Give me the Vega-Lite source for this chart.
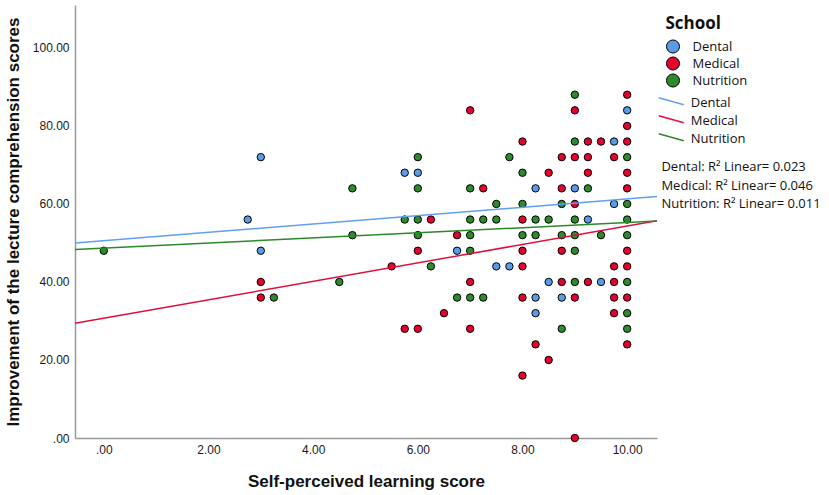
{
  "$schema": "https://vega.github.io/schema/vega-lite/v6.json",
  "width": 582,
  "height": 433,
  "autosize": {"type": "none"},
  "padding": {"left": 75, "top": 5, "right": 172, "bottom": 57},
  "background": "white",
  "config": {"view": {"stroke": null}, "font": "Liberation Sans"},
  "resolve": {"legend": {"fill": "independent", "stroke": "independent", "shape": "independent"}},
  "datasets": {
    "points": [
      {"school": "Dental", "x": 3, "y": 72}, {"school": "Dental", "x": 2.75, "y": 56}, {"school": "Dental", "x": 3, "y": 48},
      {"school": "Dental", "x": 5.75, "y": 68}, {"school": "Dental", "x": 6, "y": 68}, {"school": "Dental", "x": 6.75, "y": 48},
      {"school": "Dental", "x": 7.5, "y": 44}, {"school": "Dental", "x": 7.75, "y": 44}, {"school": "Dental", "x": 8.25, "y": 64},
      {"school": "Dental", "x": 9, "y": 64}, {"school": "Dental", "x": 9.75, "y": 76}, {"school": "Dental", "x": 10, "y": 84},
      {"school": "Dental", "x": 9.75, "y": 60}, {"school": "Dental", "x": 9.25, "y": 56}, {"school": "Dental", "x": 8.5, "y": 40},
      {"school": "Dental", "x": 9.5, "y": 40}, {"school": "Dental", "x": 8.25, "y": 36}, {"school": "Dental", "x": 8.75, "y": 36},
      {"school": "Dental", "x": 8.25, "y": 32},
      {"school": "Medical", "x": 3, "y": 40}, {"school": "Medical", "x": 3, "y": 36}, {"school": "Medical", "x": 7, "y": 84},
      {"school": "Medical", "x": 8, "y": 76}, {"school": "Medical", "x": 7.25, "y": 64}, {"school": "Medical", "x": 6.25, "y": 56},
      {"school": "Medical", "x": 8, "y": 56}, {"school": "Medical", "x": 6.75, "y": 52}, {"school": "Medical", "x": 6, "y": 48},
      {"school": "Medical", "x": 8, "y": 48}, {"school": "Medical", "x": 5.5, "y": 44}, {"school": "Medical", "x": 8, "y": 44},
      {"school": "Medical", "x": 7, "y": 40}, {"school": "Medical", "x": 8, "y": 36}, {"school": "Medical", "x": 6.5, "y": 32},
      {"school": "Medical", "x": 5.75, "y": 28}, {"school": "Medical", "x": 6, "y": 28}, {"school": "Medical", "x": 7, "y": 28},
      {"school": "Medical", "x": 8, "y": 16}, {"school": "Medical", "x": 10, "y": 88}, {"school": "Medical", "x": 9, "y": 84},
      {"school": "Medical", "x": 10, "y": 80}, {"school": "Medical", "x": 9.25, "y": 76}, {"school": "Medical", "x": 9.5, "y": 76},
      {"school": "Medical", "x": 10, "y": 76}, {"school": "Medical", "x": 8.75, "y": 72}, {"school": "Medical", "x": 9, "y": 72},
      {"school": "Medical", "x": 9.25, "y": 72}, {"school": "Medical", "x": 9.75, "y": 72}, {"school": "Medical", "x": 8.5, "y": 68},
      {"school": "Medical", "x": 9.25, "y": 68}, {"school": "Medical", "x": 10, "y": 68}, {"school": "Medical", "x": 8.75, "y": 64},
      {"school": "Medical", "x": 10, "y": 64}, {"school": "Medical", "x": 9, "y": 60}, {"school": "Medical", "x": 8.75, "y": 48},
      {"school": "Medical", "x": 10, "y": 48}, {"school": "Medical", "x": 9.75, "y": 44}, {"school": "Medical", "x": 10, "y": 44},
      {"school": "Medical", "x": 8.75, "y": 40}, {"school": "Medical", "x": 9.25, "y": 40}, {"school": "Medical", "x": 9.75, "y": 40},
      {"school": "Medical", "x": 9, "y": 36}, {"school": "Medical", "x": 9.75, "y": 36}, {"school": "Medical", "x": 10, "y": 36},
      {"school": "Medical", "x": 9.75, "y": 32}, {"school": "Medical", "x": 8.25, "y": 24}, {"school": "Medical", "x": 10, "y": 24},
      {"school": "Medical", "x": 8.5, "y": 20}, {"school": "Medical", "x": 9, "y": 0},
      {"school": "Nutrition", "x": 0, "y": 48}, {"school": "Nutrition", "x": 3.25, "y": 36}, {"school": "Nutrition", "x": 4.5, "y": 40},
      {"school": "Nutrition", "x": 4.75, "y": 64}, {"school": "Nutrition", "x": 4.75, "y": 52}, {"school": "Nutrition", "x": 6, "y": 72},
      {"school": "Nutrition", "x": 7.75, "y": 72}, {"school": "Nutrition", "x": 8, "y": 68}, {"school": "Nutrition", "x": 6, "y": 64},
      {"school": "Nutrition", "x": 7, "y": 64}, {"school": "Nutrition", "x": 7.5, "y": 60}, {"school": "Nutrition", "x": 8, "y": 60},
      {"school": "Nutrition", "x": 5.75, "y": 56}, {"school": "Nutrition", "x": 6, "y": 56}, {"school": "Nutrition", "x": 7, "y": 56},
      {"school": "Nutrition", "x": 7.25, "y": 56}, {"school": "Nutrition", "x": 7.5, "y": 56}, {"school": "Nutrition", "x": 6, "y": 52},
      {"school": "Nutrition", "x": 7, "y": 52}, {"school": "Nutrition", "x": 8, "y": 52}, {"school": "Nutrition", "x": 7, "y": 48},
      {"school": "Nutrition", "x": 6.25, "y": 44}, {"school": "Nutrition", "x": 6.75, "y": 36}, {"school": "Nutrition", "x": 7, "y": 36},
      {"school": "Nutrition", "x": 7.25, "y": 36}, {"school": "Nutrition", "x": 9, "y": 88}, {"school": "Nutrition", "x": 9, "y": 76},
      {"school": "Nutrition", "x": 10, "y": 72}, {"school": "Nutrition", "x": 9.25, "y": 64}, {"school": "Nutrition", "x": 8.75, "y": 60},
      {"school": "Nutrition", "x": 10, "y": 60}, {"school": "Nutrition", "x": 8.25, "y": 56}, {"school": "Nutrition", "x": 8.5, "y": 56},
      {"school": "Nutrition", "x": 9, "y": 56}, {"school": "Nutrition", "x": 10, "y": 56}, {"school": "Nutrition", "x": 8.25, "y": 52},
      {"school": "Nutrition", "x": 8.75, "y": 52}, {"school": "Nutrition", "x": 9, "y": 52}, {"school": "Nutrition", "x": 9.5, "y": 52},
      {"school": "Nutrition", "x": 10, "y": 52}, {"school": "Nutrition", "x": 9, "y": 48}, {"school": "Nutrition", "x": 9, "y": 40},
      {"school": "Nutrition", "x": 10, "y": 40}, {"school": "Nutrition", "x": 10, "y": 32}, {"school": "Nutrition", "x": 8.75, "y": 28},
      {"school": "Nutrition", "x": 10, "y": 28}
    ],
    "fit": [
      {"fitline": "Dental", "x": -0.55, "y": 50.0}, {"fitline": "Dental", "x": 10.57, "y": 61.9},
      {"fitline": "Medical", "x": -0.55, "y": 29.4}, {"fitline": "Medical", "x": 10.57, "y": 55.7},
      {"fitline": "Nutrition", "x": -0.55, "y": 48.3}, {"fitline": "Nutrition", "x": 10.57, "y": 55.6}
    ],
    "r2": [
      {"label": "Dental: R² Linear= 0.023"},
      {"label": "Medical: R² Linear= 0.046"},
      {"label": "Nutrition: R² Linear= 0.011"}
    ]
  },
  "encoding": {
    "x": {
      "field": "x", "type": "quantitative",
      "scale": {"domain": [-0.55, 10.57], "nice": false, "zero": false},
      "axis": {
        "values": [0, 2, 4, 6, 8, 10],
        "labelExpr": "datum.value == 0 ? '.00' : format(datum.value, '.2f')",
        "ticks": false, "grid": false,
        "domainColor": "#999999", "domainWidth": 1.5,
        "labelFont": "Liberation Sans", "labelFontSize": 12, "labelColor": "#1a1a1a", "labelPadding": 6,
        "title": "Self-perceived learning score",
        "titleFont": "Liberation Sans", "titleFontSize": 17, "titleFontWeight": "bold", "titleColor": "#111111",
        "titleY": 48, "titleBaseline": "alphabetic"
      }
    },
    "y": {
      "field": "y", "type": "quantitative",
      "scale": {"domain": [0, 111], "nice": false},
      "axis": {
        "values": [0, 20, 40, 60, 80, 100],
        "labelExpr": "datum.value == 0 ? '.00' : format(datum.value, '.2f')",
        "ticks": false, "grid": false,
        "domainColor": "#999999", "domainWidth": 1.5,
        "labelFont": "Liberation Sans", "labelFontSize": 12, "labelColor": "#1a1a1a", "labelPadding": 6,
        "title": "Improvement of the lecture comprehension scores",
        "titleFont": "Liberation Sans", "titleFontSize": 17, "titleFontWeight": "bold", "titleColor": "#111111",
        "titleAngle": -90, "titleX": -57, "titleY": 216.5, "titleAlign": "center", "titleBaseline": "alphabetic"
      }
    }
  },
  "layer": [
    {
      "data": {"name": "points"},
      "mark": {"type": "circle", "size": 55, "stroke": "black", "strokeWidth": 1, "opacity": 1},
      "encoding": {
        "fill": {
          "field": "school", "type": "nominal",
          "scale": {"domain": ["Dental", "Medical", "Nutrition"], "range": ["#5B9BE6", "#E4032E", "#2E8B2B"]},
          "legend": {
            "title": "School", "orient": "none", "legendX": 590.5, "legendY": 10.5,
            "titleFont": "Open Sans", "titleFontSize": 17, "titleFontWeight": "bold", "titleColor": "#111111", "titlePadding": 6.5,
            "labelFont": "Open Sans", "labelFontSize": 13, "labelColor": "#111111", "labelOffset": 12,
            "symbolType": "circle", "symbolSize": 170, "symbolStrokeColor": "black", "symbolStrokeWidth": 1,
            "symbolOpacity": 1, "rowPadding": -2
          }
        }
      }
    },
    {
      "data": {"name": "fit"},
      "mark": {"type": "line", "strokeWidth": 1.5},
      "encoding": {
        "stroke": {
          "field": "fitline", "type": "nominal",
          "scale": {"domain": ["Dental", "Medical", "Nutrition"], "range": ["#5FA0F0", "#E0103C", "#2A8A2A"]},
          "legend": {
            "title": null, "orient": "none", "legendX": 589.25, "legendY": 91,
            "labelFont": "Open Sans", "labelFontSize": 13, "labelColor": "#111111", "labelOffset": 12.5,
            "symbolType": "M-2,-0.83L2,0.29", "symbolSize": 156, "symbolStrokeWidth": 1.5,
            "rowPadding": 2
          }
        }
      }
    },
    {
      "data": {"name": "r2"},
      "mark": {"type": "point", "opacity": 0},
      "encoding": {
        "x": {"value": 0},
        "y": {"value": 0},
        "shape": {
          "field": "label", "type": "nominal",
          "legend": {
            "title": null, "orient": "none", "legendX": 573.4, "legendY": 155.5,
            "labelFont": "Open Sans", "labelFontSize": 13, "labelColor": "#111111", "labelOffset": 0,
            "symbolSize": 0, "symbolOpacity": 0, "symbolStrokeWidth": 0,
            "rowPadding": 4.5
          }
        }
      }
    }
  ]
}
